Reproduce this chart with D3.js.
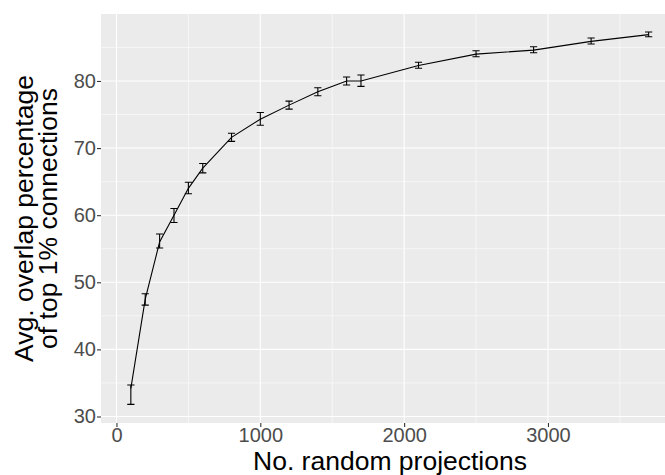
<!DOCTYPE html>
<html>
<head>
<meta charset="utf-8">
<script src="https://cdn.jsdelivr.net/npm/d3@7"></script>
<style>
  body { margin: 0; background: #fff; }
  svg { display: block; font-family: "Liberation Sans", Arial, sans-serif; }
</style>
</head>
<body>
<div id="container"></div>
<script>
/* DATA */
const projections = [100, 200, 300, 400, 500, 600, 800, 1000, 1200, 1400, 1600, 1700, 2100, 2500, 2900, 3300, 3700];
const meanOverlap = [34.2, 47.5, 56.0, 60.0, 64.0, 67.0, 71.6, 74.3, 76.4, 78.4, 80.0, 80.0, 82.3, 84.0, 84.6, 85.9, 86.9];
const lowerOverlap = [31.8, 46.6, 55.1, 58.9, 63.2, 66.3, 71.0, 73.4, 75.8, 77.8, 79.4, 79.2, 81.9, 83.6, 84.2, 85.5, 86.6];
const upperOverlap = [34.7, 48.3, 57.2, 61.0, 64.9, 67.7, 72.2, 75.3, 77.0, 79.0, 80.6, 80.9, 82.8, 84.5, 85.1, 86.4, 87.3];
const xTicks = [0, 1000, 2000, 3000];
const xMinor = [500, 1500, 2500, 3500];
const yTicks = [30, 40, 50, 60, 70, 80];
const yMinor = [35, 45, 55, 65, 75, 85];
const whiskerHalf = 25; // errorbar width in data units / 2

/* CONSTANTS */
const width = 665, height = 475;
const panel = { left: 101, right: 678.5, top: 14, bottom: 423 };

const data = projections.map((p, i) => ({
  x: p, y: meanOverlap[i], lo: lowerOverlap[i], hi: upperOverlap[i]
}));

const xScale = d3.scaleLinear()
  .domain([-107.5, 3907.5])
  .range([panel.left, panel.right]);

const yScale = d3.scaleLinear()
  .domain([29.03, 89.98])
  .range([panel.bottom, panel.top]);

const svg = d3.select("#container")
  .append("svg")
  .attr("width", width)
  .attr("height", height);

// panel background
svg.append("rect")
  .attr("x", panel.left)
  .attr("y", panel.top)
  .attr("width", panel.right - panel.left)
  .attr("height", panel.bottom - panel.top)
  .attr("fill", "#EBEBEB");

// minor grid
svg.append("g").selectAll("line")
  .data(xMinor)
  .join("line")
  .attr("x1", d => xScale(d)).attr("x2", d => xScale(d))
  .attr("y1", panel.top).attr("y2", panel.bottom)
  .attr("stroke", "#fff").attr("stroke-width", 0.55);

svg.append("g").selectAll("line")
  .data(yMinor)
  .join("line")
  .attr("y1", d => yScale(d)).attr("y2", d => yScale(d))
  .attr("x1", panel.left).attr("x2", panel.right)
  .attr("stroke", "#fff").attr("stroke-width", 0.55);

// major grid
svg.append("g").selectAll("line")
  .data(xTicks)
  .join("line")
  .attr("x1", d => xScale(d)).attr("x2", d => xScale(d))
  .attr("y1", panel.top).attr("y2", panel.bottom)
  .attr("stroke", "#fff").attr("stroke-width", 1.1);

svg.append("g").selectAll("line")
  .data(yTicks)
  .join("line")
  .attr("y1", d => yScale(d)).attr("y2", d => yScale(d))
  .attr("x1", panel.left).attr("x2", panel.right)
  .attr("stroke", "#fff").attr("stroke-width", 1.1);

// axes
const xAxis = d3.axisBottom(xScale).tickValues(xTicks).tickFormat(d3.format("d")).tickSize(4).tickPadding(1);
const yAxis = d3.axisLeft(yScale).tickValues(yTicks).tickFormat(d3.format("d")).tickSize(4).tickPadding(1);

const xAxisGroup = svg.append("g")
  .attr("transform", `translate(0, ${panel.bottom})`)
  .call(xAxis);

const yAxisGroup = svg.append("g")
  .attr("transform", `translate(${panel.left}, 0)`)
  .call(yAxis);

[xAxisGroup, yAxisGroup].forEach(g => {
  g.select(".domain").remove();
  g.selectAll(".tick line").attr("stroke", "#333").attr("stroke-width", 1.1);
  g.selectAll(".tick text")
    .attr("fill", "#4D4D4D")
    .style("font-size", "20px")
    .style("font-family", "Liberation Sans, Arial, sans-serif");
});

// line through means
const line = d3.line()
  .x(d => xScale(d.x))
  .y(d => yScale(d.y));

svg.append("path")
  .datum(data)
  .attr("d", line)
  .attr("fill", "none")
  .attr("stroke", "#000")
  .attr("stroke-width", 1.1);

// error bars
svg.append("g")
  .attr("stroke", "#000")
  .attr("stroke-width", 1.1)
  .selectAll("path")
  .data(data)
  .join("path")
  .attr("fill", "none")
  .attr("d", d => {
    const x0 = xScale(d.x - whiskerHalf), x1 = xScale(d.x + whiskerHalf), xc = xScale(d.x);
    const yl = yScale(d.lo), yh = yScale(d.hi);
    return `M${x0},${yh}H${x1}M${xc},${yh}V${yl}M${x0},${yl}H${x1}`;
  });

// axis titles
svg.append("text")
  .attr("x", 390)
  .attr("y", 470)
  .attr("text-anchor", "middle")
  .style("font-size", "26.5px")
  .attr("fill", "#000")
  .text("No. random projections");

const yTitle = svg.append("text")
  .attr("transform", `translate(33, ${(panel.top + panel.bottom) / 2}) rotate(-90)`)
  .attr("text-anchor", "middle")
  .style("font-size", "26.5px")
  .attr("fill", "#000");

yTitle.append("tspan").attr("x", 0).attr("y", 0).text("Avg. overlap percentage");
yTitle.append("tspan").attr("x", 0).attr("y", 24).text("of top 1% connections");
</script>
</body>
</html>
